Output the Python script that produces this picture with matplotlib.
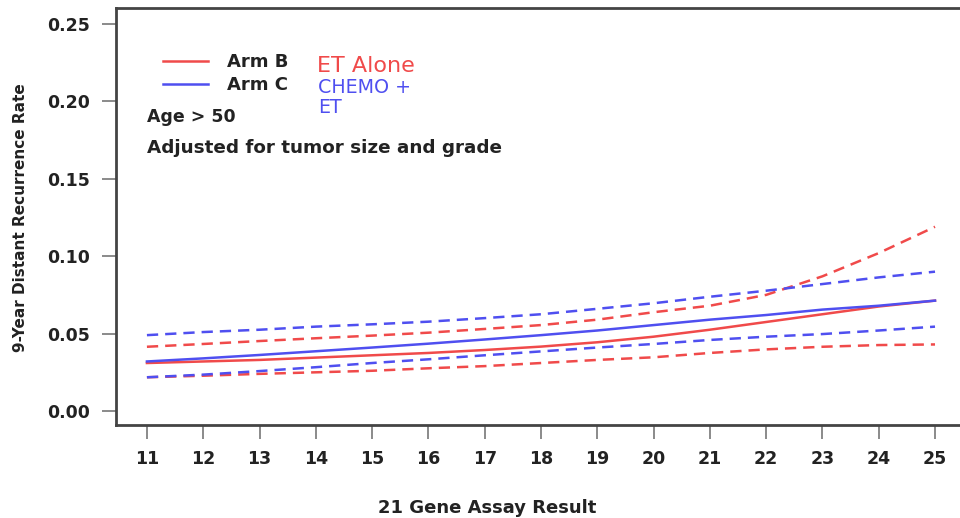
import matplotlib
matplotlib.use("Agg")
import matplotlib.pyplot as plt
import numpy as np

plt.rcParams['font.family'] = ['DejaVu Sans']

# --- values --- #
score = [11, 12, 13, 14, 15, 16, 17, 18, 19, 20, 21, 22, 23, 24, 25]

armB_fit = [0.031, 0.032, 0.033, 0.0345, 0.036, 0.0375, 0.0394, 0.0416, 0.0444, 0.048, 0.0525, 0.0575, 0.0625, 0.0675, 0.0713]
armB_hi = [0.0415, 0.0433, 0.0452, 0.047, 0.0487, 0.0506, 0.053, 0.0555, 0.059, 0.0638, 0.068, 0.075, 0.087, 0.102, 0.119]
armB_lo = [0.0218, 0.0228, 0.024, 0.025, 0.026, 0.0276, 0.029, 0.031, 0.033, 0.0347, 0.0375, 0.0398, 0.0415, 0.0426, 0.043]

armC_fit = [0.032, 0.034, 0.0362, 0.0386, 0.041, 0.0435, 0.0462, 0.049, 0.052, 0.0555, 0.059, 0.062, 0.0655, 0.068, 0.0713]
armC_hi = [0.049, 0.051, 0.0525, 0.0545, 0.056, 0.0577, 0.06, 0.0625, 0.066, 0.0696, 0.0738, 0.0777, 0.082, 0.0863, 0.090]
armC_lo = [0.0218, 0.0235, 0.0258, 0.0283, 0.031, 0.0334, 0.036, 0.0385, 0.041, 0.0433, 0.0459, 0.048, 0.0497, 0.052, 0.0545]

yticks = [0.00, 0.05, 0.10, 0.15, 0.20, 0.25]

red = '#f04a4a'
blue = '#4f4ff0'
dash = (0, (4.5, 2.8))

fig = plt.figure(figsize=(9.6, 5.18), dpi=100)
ax = fig.add_axes([0.1208, 0.1795, 0.8792, 0.8051])

ax.plot(score, armB_fit, color=red, lw=1.8)
ax.plot(score, armC_fit, color=blue, lw=1.8)
for s in (armB_hi, armB_lo):
    ax.plot(score, s, color=red, lw=1.8, ls=dash)
for s in (armC_hi, armC_lo):
    ax.plot(score, s, color=blue, lw=1.8, ls=dash)

ax.set_xlim(10.45, 25.444)
ax.set_ylim(-0.00904, 0.2603)
ax.set_xticks(score)
ax.set_yticks(yticks)
ax.set_yticklabels(["%.2f" % v for v in yticks])

for sp in ['left', 'bottom', 'top']:
    ax.spines[sp].set_color('#444444')
    ax.spines[sp].set_linewidth(2)
ax.spines['right'].set_visible(False)
ax.tick_params(axis='both', direction='out', length=10, width=1.2, color='#777777',
               labelsize=12.5, labelcolor='#222222')
ax.tick_params(axis='x', pad=8)
ax.tick_params(axis='y', pad=9)
for lab in ax.get_xticklabels() + ax.get_yticklabels():
    lab.set_fontweight('bold')

fig.text(0.021, 1 - 217.5 / 518, "9-Year Distant Recurrence Rate", rotation=90, ha='center',
         va='center', fontsize=11, fontweight='bold', color='#222222')
fig.text(0.507, 1 - 513 / 518, "21 Gene Assay Result", ha='center', va='baseline',
         fontsize=13, fontweight='bold', color='#222222')

# legend drawn by hand, positions in axes fraction
fx = lambda px: (px - 116) / (960 - 116)
fy = lambda py: (425 - py) / (425 - 8)
ax.plot([fx(163), fx(208)], [fy(61), fy(61)], color=red, lw=1.8, transform=ax.transAxes)
ax.plot([fx(163), fx(208)], [fy(84), fy(84)], color=blue, lw=1.8, transform=ax.transAxes)
ax.text(fx(227), fy(67), "Arm B", transform=ax.transAxes, va='baseline', fontsize=13,
        fontweight='bold', color='#222222')
ax.text(fx(227), fy(90), "Arm C", transform=ax.transAxes, va='baseline', fontsize=13,
        fontweight='bold', color='#222222')
ax.text(fx(317), fy(72), "ET Alone", transform=ax.transAxes, va='baseline', fontsize=16,
        color=red)
ax.text(fx(318), fy(93), "CHEMO +", transform=ax.transAxes, va='baseline', fontsize=13.7,
        color=blue)
ax.text(fx(318), fy(113), "ET", transform=ax.transAxes, va='baseline', fontsize=13.7,
        color=blue)
ax.text(fx(147), fy(122), "Age > 50", transform=ax.transAxes, va='baseline', fontsize=12.5,
        fontweight='bold', color='#222222')
ax.text(fx(147), fy(153), "Adjusted for tumor size and grade", transform=ax.transAxes,
        va='baseline', fontsize=13.2, fontweight='bold', color='#222222')

plt.savefig("out.png", dpi=100)
